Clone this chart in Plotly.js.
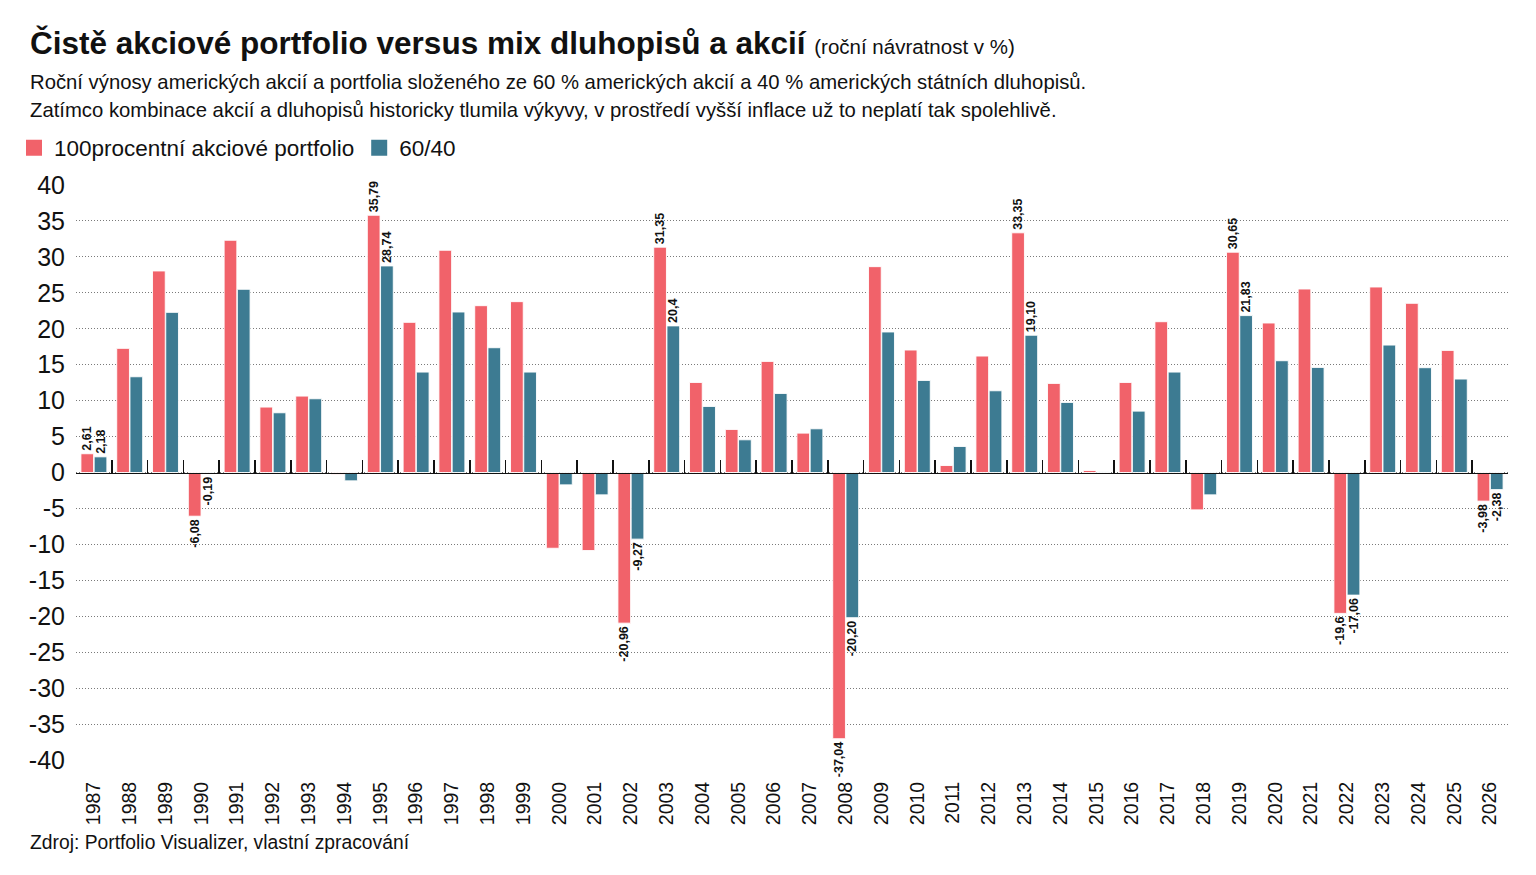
<!DOCTYPE html>
<html>
<head>
<meta charset="utf-8">
<script src="https://cdn.plot.ly/plotly-3.0.1.min.js"></script>
<style>
html,body{margin:0;padding:0;background:#fff;}
#chart{width:1536px;height:875px;}
</style>
</head>
<body>
<div id="chart"></div>
<script>
const years = [1987,1988,1989,1990,1991,1992,1993,1994,1995,1996,1997,1998,1999,2000,2001,2002,2003,2004,2005,2006,2007,2008,2009,2010,2011,2012,2013,2014,2015,2016,2017,2018,2019,2020,2021,2022,2023,2024,2025,2026];
const stocks = [2.61,17.27,28.04,-6.08,32.31,9.10,10.63,-0.25,35.79,20.89,30.92,23.21,23.77,-10.54,-10.86,-20.96,31.35,12.53,5.99,15.46,5.48,-37.04,28.64,17.04,0.97,16.20,33.35,12.40,0.28,12.53,20.98,-5.20,30.65,20.80,25.53,-19.60,25.81,23.54,16.99,-3.98];
const mix = [2.18,13.32,22.28,-0.19,25.49,8.31,10.26,-1.16,28.74,13.97,22.33,17.36,13.97,-1.72,-3.11,-9.27,20.40,9.19,4.55,11.00,6.08,-20.20,19.55,12.81,3.62,11.37,19.10,9.75,0.08,8.54,13.97,-3.11,21.83,15.55,14.62,-17.06,17.73,14.58,13.00,-2.38];
const labelYears = [1987,1990,1995,2002,2003,2008,2013,2019,2022,2026];
const stockLabelText = ["2,61","-6,08","35,79","-20,96","31,35","-37,04","33,35","30,65","-19,6","-3,98"];
const mixLabelText = ["2,18","-0,19","28,74","-9,27","20,4","-20,20","19,10","21,83","-17,06","-2,38"];
const yTickVals = [-40,-35,-30,-25,-20,-15,-10,-5,0,5,10,15,20,25,30,35,40];
const yTickText = ["-40","-35","-30","-25","-20","-15","-10","-5","0","5","10","15","20","25","30","35","40"];
const seriesNames = ["100procentní akciové portfolio","60/40"];

const RED = "#F1626A", BLUE = "#3D7B92";
const FONT = "Liberation Sans, Arial, sans-serif";
const cats = years.map(String);
function labelsFor(texts){
  return years.map(y => { const i = labelYears.indexOf(y); return i >= 0 ? texts[i] : ""; });
}
const labelFont = {family: FONT, size: 12.5, color: "#111", weight: 700};

const traces = [
  {type:"bar", name: seriesNames[0], x: cats, y: stocks, text: labelsFor(stockLabelText),
   textposition:"outside", textangle:-90, textfont: labelFont, cliponaxis:false, constraintext:"none",
   marker:{color:RED, line:{color:"rgba(255,255,255,0.9)", width:1}}, hoverinfo:"x+y", showlegend:false},
  {type:"bar", name: seriesNames[1], x: cats, y: mix, text: labelsFor(mixLabelText),
   textposition:"outside", textangle:-90, textfont: labelFont, cliponaxis:false, constraintext:"none",
   marker:{color:BLUE, line:{color:"rgba(255,255,255,0.9)", width:1}}, hoverinfo:"x+y", showlegend:false},
  // legend entries (no data points), bigger square symbols like the reference
  {type:"scatter", mode:"markers", name: seriesNames[0], x: cats, y: years.map(() => null), xaxis:"x2",
   marker:{symbol:"square", size:16, color:RED}, hoverinfo:"skip", showlegend:true},
  {type:"scatter", mode:"markers", name: seriesNames[1], x: cats, y: years.map(() => null), xaxis:"x2",
   marker:{symbol:"square", size:16, color:BLUE}, hoverinfo:"skip", showlegend:true}
];

const L = 76, PW = 1432, T = 185, PH = 575;
function px(x){ return (x - L)/PW; }
function py(y){ return (T + PH - y)/PH; }
const xRange = [-0.5, years.length - 0.5];

const layout = {
  width:1536, height:875,
  margin:{l:L, r:1536-L-PW, t:T, b:875-T-PH, pad:0},
  paper_bgcolor:"#fff", plot_bgcolor:"#fff",
  font:{family:FONT, color:"#111"},
  barmode:"group", bargap:0.26, bargroupgap:0.04,
  showlegend:true,
  legend:{orientation:"h", x:px(14), xanchor:"left", y:py(148), yanchor:"middle", itemsizing:"trace",
          font:{family:FONT, size:22.5, color:"#111"}, itemwidth:30, tracegroupgap:0, bgcolor:"rgba(0,0,0,0)"},
  xaxis:{type:"category", range:xRange, autorange:false, showgrid:false, showline:false, zeroline:false,
         tickangle:-90, ticks:"outside", ticklen:13, tickcolor:"rgba(0,0,0,0)",
         tickfont:{family:FONT, size:19.5, color:"#111"}},
  xaxis2:{type:"category", matches:"x", overlaying:"x", anchor:"free", position:0.5,
          range:xRange, autorange:false,
          showgrid:false, showline:true, linecolor:"#111", linewidth:1.6, zeroline:false,
          ticks:"inside", tickson:"boundaries", ticklen:13, tickwidth:1.5, tickcolor:"#111",
          showticklabels:false},
  yaxis:{range:[-40,40], autorange:false, tickvals:yTickVals, ticktext:yTickText,
         showgrid:true, gridcolor:"#7a7a7a", griddash:"1px,2px", gridwidth:1,
         zeroline:false, showline:false,
         ticks:"outside", ticklen:5, tickcolor:"rgba(0,0,0,0)",
         tickfont:{family:FONT, size:25, color:"#111"}},
  annotations:[
    {xref:"paper", yref:"paper", x:px(28), y:py(43), xanchor:"left", yanchor:"middle", showarrow:false,
     text:"<b>Čistě akciové portfolio versus mix dluhopisů a akcií</b> <span style='font-size:20.5px'>(roční návratnost v %)</span>",
     font:{family:FONT, size:31.5, color:"#111"}},
    {xref:"paper", yref:"paper", x:px(28), y:py(82), xanchor:"left", yanchor:"middle", showarrow:false,
     text:"Roční výnosy amerických akcií a portfolia složeného ze 60 % amerických akcií a 40 % amerických státních dluhopisů.",
     font:{family:FONT, size:20.3, color:"#111"}},
    {xref:"paper", yref:"paper", x:px(28), y:py(110), xanchor:"left", yanchor:"middle", showarrow:false,
     text:"Zatímco kombinace akcií a dluhopisů historicky tlumila výkyvy, v prostředí vyšší inflace už to neplatí tak spolehlivě.",
     font:{family:FONT, size:20.3, color:"#111"}},
    {xref:"paper", yref:"paper", x:px(28), y:py(842), xanchor:"left", yanchor:"middle", showarrow:false,
     text:"Zdroj: Portfolio Visualizer, vlastní zpracování",
     font:{family:FONT, size:19.3, color:"#111"}}
  ]
};

Plotly.newPlot("chart", traces, layout, {displayModeBar:false, staticPlot:true});
</script>
</body>
</html>
